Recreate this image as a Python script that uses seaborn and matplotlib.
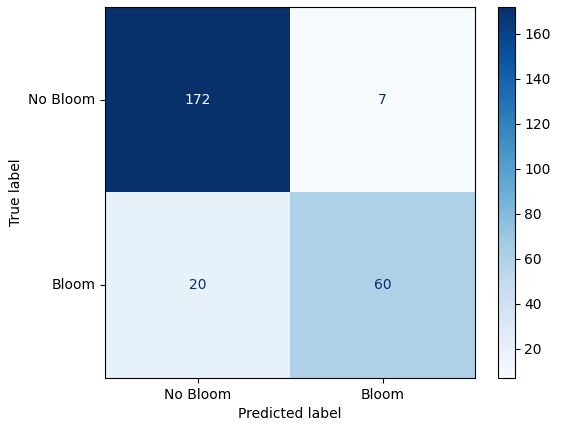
import numpy as np
import matplotlib
matplotlib.use("Agg")
import matplotlib.pyplot as plt
import seaborn as sns

# ── Data ──
labels = ["No Bloom", "Bloom"]
counts = np.array([[172, 7],
                   [20, 60]])

fig = plt.figure(figsize=(5.65, 4.32), dpi=100)
ax = fig.add_axes([0.186, 0.125, 0.655, 0.859])
cax = fig.add_axes([0.881, 0.125, 0.030, 0.859])

cmap = plt.get_cmap("Blues")
sns.heatmap(counts, cmap=cmap, ax=ax, cbar_ax=cax, annot=False,
            xticklabels=labels, yticklabels=labels, square=False)

vmin, vmax = counts.min(), counts.max()
thresh = (vmin + vmax) / 2
for i in range(2):
    for j in range(2):
        c = cmap(0.0) if counts[i, j] > thresh else cmap(1.0)
        ax.text(j + 0.5, i + 0.5, str(counts[i, j]), ha="center", va="center",
                color=c, fontsize=10)

for s in ax.spines.values():
    s.set_visible(True)
    s.set_linewidth(0.8)
ax.tick_params(length=3.5, width=0.8, labelsize=10)
ax.set_yticklabels(labels, rotation=0)
ax.set_xticklabels(labels, rotation=0)
ax.set_xlabel("Predicted label")
ax.set_ylabel("True label")

cb = ax.collections[0].colorbar
cb.outline.set_visible(True)
cb.outline.set_linewidth(0.8)
cb.set_ticks(range(20, 161, 20))
cax.tick_params(length=3.5, width=0.8, labelsize=10)

fig.savefig("out.png", dpi=100)
